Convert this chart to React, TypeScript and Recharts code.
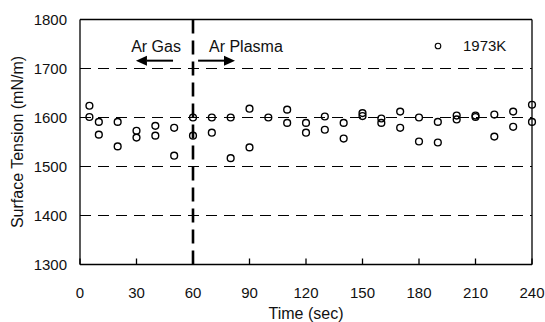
import React from 'react';
import {
  ScatterChart,
  Scatter,
  XAxis,
  YAxis,
  CartesianGrid,
  ReferenceLine,
  ReferenceDot,
  Legend,
} from 'recharts';

const times = [
  5, 5, 10, 10, 20, 20, 30, 30, 40, 40, 50, 50, 60, 60, 70, 70, 80, 80, 90, 90,
  100, 110, 110, 120, 120, 130, 130, 140, 140, 150, 150, 160, 160, 170, 170,
  180, 180, 190, 190, 200, 200, 210, 210, 220, 220, 230, 230, 240, 240,
];
const tension = [
  1624, 1601, 1591, 1565, 1591, 1541, 1573, 1559, 1583, 1563, 1579, 1522, 1600,
  1563, 1600, 1569, 1600, 1517, 1618, 1539, 1600, 1616, 1589, 1589, 1569, 1602,
  1575, 1589, 1557, 1609, 1603, 1598, 1589, 1612, 1579, 1600, 1551, 1591, 1549,
  1604, 1596, 1604, 1601, 1606, 1561, 1612, 1581, 1626, 1591,
];
const xTicks = [0, 30, 60, 90, 120, 150, 180, 210, 240];
const yTicks = [1300, 1400, 1500, 1600, 1700, 1800];
const gridValues = [1400, 1500, 1600, 1700];
const seriesName = '1973K';
const switchTime = 60;
const gasArrow = [
  { x: 49.4, y: 1716 },
  { x: 29.7, y: 1716 },
];
const plasmaArrow = [
  { x: 62.7, y: 1716 },
  { x: 82.3, y: 1716 },
];
const annotations = [
  { x: 53.6, y: 1734, text: 'Ar Gas', anchor: 'end' },
  { x: 68.5, y: 1734, text: 'Ar Plasma', anchor: 'start' },
];

const data = times.map((t, i) => ({ time: t, tension: tension[i] }));

const FONT = '"Liberation Sans", Arial, sans-serif';
const INK = '#111';

const CircleMarker = (props: any) => {
  const { cx, cy } = props;
  return <circle cx={cx} cy={cy} r={3.4} fill="none" stroke="#000" strokeWidth={1.4} />;
};

const Arrow = (props: any) => {
  const { x1, y1, x2, y2 } = props;
  const dir = Math.sign(x2 - x1);
  const head = 11;
  const hw = 5;
  return (
    <g>
      <line x1={x1} y1={y1} x2={x2 - dir * head} y2={y2} stroke="#000" strokeWidth={2} />
      <polygon
        points={`${x2},${y2} ${x2 - dir * head},${y2 - hw} ${x2 - dir * head},${y2 + hw}`}
        fill="#000"
      />
    </g>
  );
};

const makeTextShape = (text: string, anchor: string) => (props: any) => (
  <text
    x={props.cx}
    y={props.cy}
    textAnchor={anchor as any}
    fontFamily={FONT}
    fontSize={16}
    fill={INK}
  >
    {text}
  </text>
);

const YTitle = () => (
  <text
    x={23}
    y={142}
    transform="rotate(-90 23 142)"
    textAnchor="middle"
    fontFamily={FONT}
    fontSize={16}
    fill={INK}
  >
    Surface Tension (mN/m)
  </text>
);

const XTitle = () => (
  <text x={306} y={319} textAnchor="middle" fontFamily={FONT} fontSize={16} fill={INK}>
    Time (sec)
  </text>
);

const LegendContent = () => (
  <div style={{ display: 'flex', alignItems: 'center', fontFamily: FONT, fontSize: 15, color: INK }}>
    <svg width={12} height={12}>
      <circle cx={6} cy={6} r={2.8} fill="none" stroke="#000" strokeWidth={1.1} />
    </svg>
    <span style={{ marginLeft: 19, lineHeight: '17px' }}>{seriesName}</span>
  </div>
);

export default function App() {
  return (
    <div style={{ position: 'fixed', left: 0, top: 0, width: 545, height: 322, background: '#fff' }}>
      <ScatterChart width={545} height={322} margin={{ top: 19.5, right: 13, left: 0, bottom: 0 }}>
        <CartesianGrid
          horizontal
          vertical={false}
          horizontalValues={gridValues}
          stroke="#000"
          strokeWidth={1}
          strokeDasharray="11 7"
        />
        <XAxis
          type="number"
          dataKey="time"
          domain={[0, 240]}
          ticks={xTicks}
          interval={0}
          height={57.5}
          axisLine={{ stroke: '#000', strokeWidth: 1.3 }}
          tickLine={{ stroke: '#000', strokeWidth: 1.3 }}
          tickSize={-6}
          tickMargin={29}
          tick={{ fill: INK, fontSize: 15, fontFamily: FONT }}
          label={<XTitle />}
        />
        <YAxis
          type="number"
          dataKey="tension"
          domain={[1300, 1800]}
          ticks={yTicks}
          interval={0}
          width={80}
          axisLine={{ stroke: '#000', strokeWidth: 1.3 }}
          tickLine={false}
          tickSize={0}
          tickMargin={13}
          tick={{ fill: INK, fontSize: 15, fontFamily: FONT }}
          label={<YTitle />}
        />
        <ReferenceLine y={1800} stroke="#000" strokeWidth={1.3} />
        <ReferenceLine x={240} stroke="#000" strokeWidth={1.3} />
        <ReferenceLine x={switchTime} stroke="#000" strokeWidth={2.6} strokeDasharray="14 7" />
        <ReferenceLine segment={gasArrow} shape={Arrow} />
        <ReferenceLine segment={plasmaArrow} shape={Arrow} />
        {annotations.map((a) => (
          <ReferenceDot
            key={a.text}
            x={a.x}
            y={a.y}
            shape={makeTextShape(a.text, a.anchor)}
          />
        ))}
        <Legend
          layout="horizontal"
          verticalAlign="middle"
          align="center"
          wrapperStyle={{ left: 432, top: 37, width: 'auto' }}
          content={<LegendContent />}
        />
        <Scatter
          name={seriesName}
          data={data}
          shape={<CircleMarker />}
          isAnimationActive={false}
        />
      </ScatterChart>
    </div>
  );
}
